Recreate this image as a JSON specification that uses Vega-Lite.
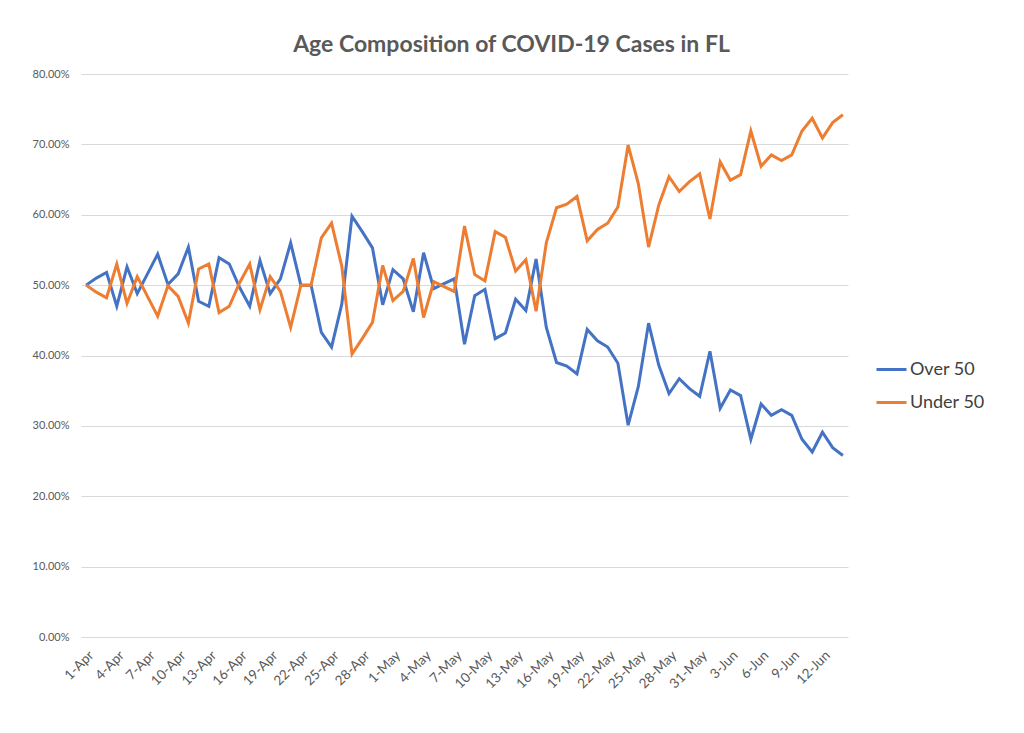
{
  "$schema": "https://vega.github.io/schema/vega-lite/v6.json",
  "width": 767,
  "height": 563,
  "padding": {"left": 32, "top": 34, "right": 20, "bottom": 10},
  "background": "white",
  "title": {
    "text": "Age Composition of COVID-19 Cases in FL",
    "font": "Lato",
    "fontSize": 23,
    "fontWeight": "bold",
    "color": "#595959",
    "offset": 11,
    "dx": 47
  },
  "data": {
    "values": [
      {"date": "1-Apr", "Over 50": 0.500, "Under 50": 0.500},
      {"date": "2-Apr", "Over 50": 0.510, "Under 50": 0.490},
      {"date": "3-Apr", "Over 50": 0.518, "Under 50": 0.482},
      {"date": "4-Apr", "Over 50": 0.470, "Under 50": 0.530},
      {"date": "5-Apr", "Over 50": 0.526, "Under 50": 0.474},
      {"date": "6-Apr", "Over 50": 0.488, "Under 50": 0.512},
      {"date": "7-Apr", "Over 50": 0.516, "Under 50": 0.484},
      {"date": "8-Apr", "Over 50": 0.544, "Under 50": 0.456},
      {"date": "9-Apr", "Over 50": 0.501, "Under 50": 0.499},
      {"date": "10-Apr", "Over 50": 0.516, "Under 50": 0.484},
      {"date": "11-Apr", "Over 50": 0.554, "Under 50": 0.446},
      {"date": "12-Apr", "Over 50": 0.477, "Under 50": 0.523},
      {"date": "13-Apr", "Over 50": 0.470, "Under 50": 0.530},
      {"date": "14-Apr", "Over 50": 0.539, "Under 50": 0.461},
      {"date": "15-Apr", "Over 50": 0.530, "Under 50": 0.470},
      {"date": "16-Apr", "Over 50": 0.497, "Under 50": 0.503},
      {"date": "17-Apr", "Over 50": 0.470, "Under 50": 0.530},
      {"date": "18-Apr", "Over 50": 0.535, "Under 50": 0.465},
      {"date": "19-Apr", "Over 50": 0.488, "Under 50": 0.512},
      {"date": "20-Apr", "Over 50": 0.509, "Under 50": 0.491},
      {"date": "21-Apr", "Over 50": 0.560, "Under 50": 0.440},
      {"date": "22-Apr", "Over 50": 0.500, "Under 50": 0.500},
      {"date": "23-Apr", "Over 50": 0.500, "Under 50": 0.500},
      {"date": "24-Apr", "Over 50": 0.433, "Under 50": 0.567},
      {"date": "25-Apr", "Over 50": 0.412, "Under 50": 0.588},
      {"date": "26-Apr", "Over 50": 0.473, "Under 50": 0.527},
      {"date": "27-Apr", "Over 50": 0.598, "Under 50": 0.402},
      {"date": "28-Apr", "Over 50": 0.576, "Under 50": 0.424},
      {"date": "29-Apr", "Over 50": 0.553, "Under 50": 0.447},
      {"date": "30-Apr", "Over 50": 0.472, "Under 50": 0.528},
      {"date": "1-May", "Over 50": 0.522, "Under 50": 0.478},
      {"date": "2-May", "Over 50": 0.509, "Under 50": 0.491},
      {"date": "3-May", "Over 50": 0.462, "Under 50": 0.538},
      {"date": "4-May", "Over 50": 0.546, "Under 50": 0.454},
      {"date": "5-May", "Over 50": 0.495, "Under 50": 0.505},
      {"date": "6-May", "Over 50": 0.502, "Under 50": 0.498},
      {"date": "7-May", "Over 50": 0.509, "Under 50": 0.491},
      {"date": "8-May", "Over 50": 0.416, "Under 50": 0.584},
      {"date": "9-May", "Over 50": 0.485, "Under 50": 0.515},
      {"date": "10-May", "Over 50": 0.494, "Under 50": 0.506},
      {"date": "11-May", "Over 50": 0.424, "Under 50": 0.576},
      {"date": "12-May", "Over 50": 0.432, "Under 50": 0.568},
      {"date": "13-May", "Over 50": 0.480, "Under 50": 0.520},
      {"date": "14-May", "Over 50": 0.464, "Under 50": 0.536},
      {"date": "15-May", "Over 50": 0.537, "Under 50": 0.463},
      {"date": "16-May", "Over 50": 0.440, "Under 50": 0.560},
      {"date": "17-May", "Over 50": 0.390, "Under 50": 0.610},
      {"date": "18-May", "Over 50": 0.385, "Under 50": 0.615},
      {"date": "19-May", "Over 50": 0.374, "Under 50": 0.626},
      {"date": "20-May", "Over 50": 0.437, "Under 50": 0.563},
      {"date": "21-May", "Over 50": 0.421, "Under 50": 0.579},
      {"date": "22-May", "Over 50": 0.412, "Under 50": 0.588},
      {"date": "23-May", "Over 50": 0.389, "Under 50": 0.611},
      {"date": "24-May", "Over 50": 0.301, "Under 50": 0.699},
      {"date": "25-May", "Over 50": 0.356, "Under 50": 0.644},
      {"date": "26-May", "Over 50": 0.446, "Under 50": 0.554},
      {"date": "27-May", "Over 50": 0.386, "Under 50": 0.614},
      {"date": "28-May", "Over 50": 0.346, "Under 50": 0.654},
      {"date": "29-May", "Over 50": 0.367, "Under 50": 0.633},
      {"date": "30-May", "Over 50": 0.353, "Under 50": 0.647},
      {"date": "31-May", "Over 50": 0.342, "Under 50": 0.658},
      {"date": "1-Jun", "Over 50": 0.406, "Under 50": 0.594},
      {"date": "2-Jun", "Over 50": 0.325, "Under 50": 0.675},
      {"date": "3-Jun", "Over 50": 0.351, "Under 50": 0.649},
      {"date": "4-Jun", "Over 50": 0.343, "Under 50": 0.657},
      {"date": "5-Jun", "Over 50": 0.281, "Under 50": 0.719},
      {"date": "6-Jun", "Over 50": 0.331, "Under 50": 0.669},
      {"date": "7-Jun", "Over 50": 0.315, "Under 50": 0.685},
      {"date": "8-Jun", "Over 50": 0.323, "Under 50": 0.677},
      {"date": "9-Jun", "Over 50": 0.315, "Under 50": 0.685},
      {"date": "10-Jun", "Over 50": 0.281, "Under 50": 0.719},
      {"date": "11-Jun", "Over 50": 0.263, "Under 50": 0.737},
      {"date": "12-Jun", "Over 50": 0.291, "Under 50": 0.709},
      {"date": "13-Jun", "Over 50": 0.269, "Under 50": 0.731},
      {"date": "14-Jun", "Over 50": 0.258, "Under 50": 0.742}
    ]
  },
  "transform": [
    {"fold": ["Over 50", "Under 50"], "as": ["series", "share"]}
  ],
  "mark": {"type": "line", "strokeWidth": 3, "strokeJoin": "miter"},
  "encoding": {
    "x": {
      "field": "date",
      "type": "ordinal",
      "sort": null,
      "title": null,
      "scale": {"padding": 0.5},
      "axis": {
        "values": ["1-Apr", "4-Apr", "7-Apr", "10-Apr", "13-Apr", "16-Apr", "19-Apr", "22-Apr", "25-Apr", "28-Apr", "1-May", "4-May", "7-May", "10-May", "13-May", "16-May", "19-May", "22-May", "25-May", "28-May", "31-May", "3-Jun", "6-Jun", "9-Jun", "12-Jun"],
        "labelAngle": -45,
        "labelAlign": "right",
        "labelBaseline": "top",
        "labelFont": "Lato",
        "labelFontSize": 13.5,
        "labelColor": "#595959",
        "labelPadding": 11,
        "ticks": false,
        "domain": false,
        "grid": false
      }
    },
    "y": {
      "field": "share",
      "type": "quantitative",
      "title": null,
      "scale": {"domain": [0, 0.8]},
      "axis": {
        "values": [0, 0.1, 0.2, 0.3, 0.4, 0.5, 0.6, 0.7, 0.8],
        "format": ".2%",
        "labelFont": "Lato",
        "labelFontSize": 11,
        "labelColor": "#595959",
        "labelPadding": 12,
        "ticks": false,
        "domain": false,
        "gridColor": "#d9d9d9",
        "gridWidth": 1
      }
    },
    "color": {
      "field": "series",
      "type": "nominal",
      "title": null,
      "scale": {"domain": ["Over 50", "Under 50"], "range": ["#4472C4", "#ED7D31"]},
      "legend": {
        "orient": "none",
        "legendX": 794,
        "legendY": 279,
        "symbolType": "stroke",
        "symbolSize": 900,
        "symbolStrokeWidth": 3,
        "labelFont": "Lato",
        "labelFontSize": 18,
        "labelColor": "#404040",
        "labelOffset": 2,
        "rowPadding": 7
      }
    }
  },
  "config": {
    "view": {"stroke": null}
  }
}
